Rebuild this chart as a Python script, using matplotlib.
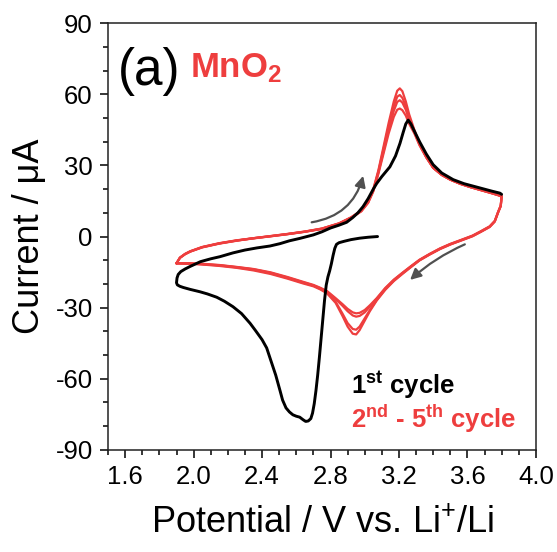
import matplotlib
matplotlib.use("Agg")
import matplotlib.pyplot as plt
from matplotlib.ticker import MultipleLocator, FormatStrFormatter

plt.rcParams['font.family'] = ['Liberation Sans', 'DejaVu Sans']
plt.rcParams['mathtext.fontset'] = 'custom'
plt.rcParams['mathtext.rm'] = 'Liberation Sans'
plt.rcParams['mathtext.bf'] = 'Liberation Sans:bold'
plt.rcParams['mathtext.it'] = 'Liberation Sans:italic'
plt.rcParams['axes.unicode_minus'] = False

# ---- 1st cycle (V vs Li+/Li, current in uA): OCV -> 1.9 V -> 3.8 V ----
cycle1_potential = [
    3.075, 3.02, 2.97, 2.92, 2.88, 2.85, 2.835, 2.825, 2.815, 2.805, 2.795,
    2.785, 2.775, 2.765, 2.755, 2.745, 2.735, 2.725, 2.715, 2.705, 2.695,
    2.685, 2.67, 2.655, 2.64, 2.62, 2.60, 2.58, 2.56, 2.54, 2.52, 2.505,
    2.48, 2.45, 2.427, 2.40, 2.36, 2.33, 2.28, 2.23, 2.18, 2.135, 2.08,
    2.037, 1.98, 1.94, 1.92, 1.905, 1.90,
    1.903, 1.91, 1.925, 1.95, 1.98, 2.04, 2.10, 2.154, 2.23, 2.30, 2.37,
    2.446, 2.505, 2.56, 2.62, 2.70, 2.75, 2.80, 2.85, 2.894, 2.93, 2.96,
    2.99, 3.02, 3.05, 3.07, 3.10, 3.147, 3.18, 3.206, 3.225, 3.24, 3.254,
    3.27, 3.30, 3.322, 3.36, 3.40, 3.45, 3.517, 3.58, 3.673, 3.74, 3.79, 3.80,
]
cycle1_current = [
    0.0, -0.3, -0.7, -1.3, -2.0, -2.6, -3.3, -5.0, -8.0, -11.5, -14.5,
    -17.0, -20.5, -27.0, -35.0, -43.0, -51.0, -58.5, -65.0, -70.5, -74.5,
    -76.8, -77.8, -78.0, -77.3, -76.2, -75.8, -75.2, -74.0, -72.3, -69.0, -65.0,
    -58.5, -52.0, -47.0, -43.5, -39.5, -36.6, -32.5, -29.6, -27.3, -25.6, -24.2,
    -23.3, -22.3, -21.5, -21.0, -20.4, -19.5,
    -17.5, -16.0, -14.8, -13.7, -12.6, -10.6, -9.4, -8.5, -6.9, -5.7, -4.8,
    -4.0, -3.0, -1.8, -0.8, 0.7, 2.0, 3.6, 4.8, 6.0, 8.0, 10.0,
    12.6, 16.0, 20.0, 22.4, 25.3, 29.4, 34.0, 39.3, 44.0, 47.5, 49.1,
    47.5, 43.0, 39.8, 34.8, 30.3, 26.8, 24.0, 22.3, 20.5, 19.2, 18.3, 17.8,
]

# ---- 2nd - 5th cycles: 1.9 V -> 3.8 V -> 1.9 V ----
cycle_potential = [
    1.90, 1.92, 1.95, 1.98, 2.05, 2.15, 2.25, 2.35, 2.45, 2.55, 2.65, 2.75,
    2.85, 2.92, 2.98, 3.02, 3.05, 3.08, 3.11, 3.14, 3.17, 3.19, 3.205, 3.22,
    3.24, 3.26, 3.29, 3.32, 3.36, 3.40, 3.45, 3.50, 3.56, 3.62, 3.68, 3.74,
    3.78, 3.80,
    3.80, 3.795, 3.78, 3.76, 3.73, 3.68, 3.63, 3.56, 3.50, 3.44, 3.38, 3.32,
    3.27, 3.22, 3.17, 3.12, 3.07, 3.03, 3.00, 2.97, 2.95, 2.93, 2.90, 2.87,
    2.83, 2.78, 2.74, 2.70, 2.64, 2.55, 2.45, 2.35, 2.25, 2.15, 2.05, 1.98,
    1.93, 1.90,
]
cycle2_current = [
    -11.3, -9.0, -7.5, -6.4, -4.6, -3.0, -1.8, -0.7, 0.1, 1.0, 2.0, 3.2,
    5.4, 7.8, 10.6, 14.2, 19.0, 26.5, 35.0, 43.5, 50.5, 53.5, 54.0, 53.3,
    51.0, 47.5, 43.5, 38.5, 33.3, 29.0, 26.0, 24.0, 22.2, 20.8, 19.5, 18.3,
    17.4, 16.9,
    16.9, 12.8, 10.2, 6.4, 4.1, 2.1, 0.2, -1.7, -3.4, -5.3, -7.6, -10.1,
    -12.9, -15.8, -18.8, -22.5, -27.0, -31.5, -35.5, -39.5, -41.3, -41.0, -38.0, -33.5,
    -28.0, -24.0, -22.3, -21.0, -19.8, -17.8, -15.8, -14.3, -13.2, -12.4, -11.8, -11.5,
    -11.4, -11.3,
]
cycle3_current = [
    -11.3, -9.0, -7.4, -6.3, -4.5, -2.9, -1.7, -0.7, 0.2, 1.1, 2.1, 3.3,
    5.5, 7.9, 10.8, 14.4, 19.3, 27.0, 36.0, 45.0, 53.0, 56.8, 57.5, 56.5,
    53.5, 49.0, 44.0, 38.8, 33.4, 29.0, 26.0, 24.0, 22.2, 20.8, 19.6, 18.3,
    17.5, 17.0,
    17.0, 13.0, 10.3, 6.3, 4.0, 2.0, 0.1, -1.8, -3.3, -5.2, -7.5, -10.0,
    -12.8, -15.6, -18.6, -22.2, -26.8, -31.0, -34.5, -38.0, -39.3, -39.0, -36.5, -32.5,
    -27.5, -23.7, -22.0, -20.7, -19.5, -17.5, -15.5, -14.0, -13.0, -12.2, -11.7, -11.4,
    -11.3, -11.3,
]
cycle4_current = [
    -11.3, -8.9, -7.4, -6.3, -4.5, -2.9, -1.7, -0.8, 0.1, 1.0, 2.0, 3.3,
    5.5, 8.0, 10.9, 14.6, 19.6, 27.5, 37.0, 46.5, 55.0, 59.0, 59.7, 58.5,
    55.0, 50.0, 44.5, 39.0, 33.5, 29.0, 26.0, 24.0, 22.2, 20.8, 19.6, 18.4,
    17.5, 17.0,
    17.0, 13.0, 10.4, 6.5, 4.2, 2.2, 0.3, -1.6, -3.2, -5.1, -7.4, -9.9,
    -12.6, -15.4, -18.3, -21.9, -26.3, -29.6, -32.0, -33.5, -33.8, -33.3, -31.5, -29.2,
    -26.4, -23.3, -21.8, -20.6, -19.3, -17.3, -15.3, -13.8, -12.9, -12.1, -11.6, -11.4,
    -11.3, -11.3,
]
cycle5_current = [
    -11.3, -8.9, -7.3, -6.2, -4.4, -2.8, -1.6, -0.7, 0.2, 1.1, 2.1, 3.4,
    5.6, 8.1, 11.0, 14.8, 20.0, 28.0, 38.0, 48.0, 57.0, 61.5, 62.5, 61.3,
    57.0, 51.5, 45.0, 39.3, 33.6, 29.0, 26.0, 24.0, 22.2, 20.8, 19.6, 18.4,
    17.5, 17.0,
    17.0, 13.1, 10.5, 6.6, 4.3, 2.3, 0.4, -1.5, -3.1, -5.0, -7.3, -9.8,
    -12.5, -15.3, -18.2, -21.7, -26.0, -29.0, -31.0, -32.2, -32.4, -32.0, -30.5, -28.5,
    -26.0, -23.0, -21.6, -20.4, -19.1, -17.1, -15.1, -13.7, -12.8, -12.0, -11.5, -11.3,
    -11.3, -11.3,
]
later_cycles = [cycle2_current, cycle3_current, cycle4_current, cycle5_current]

x_ticks = [1.6, 2.0, 2.4, 2.8, 3.2, 3.6, 4.0]
y_ticks = [-90, -60, -30, 0, 30, 60, 90]

RED = '#EE3E3E'
BLACK = '#000000'
GREY = '#505050'

fig = plt.figure(figsize=(5.57, 5.52), dpi=100)
ax = fig.add_axes([0.194, 0.185, 0.768, 0.773])

for cur in later_cycles:
    ax.plot(cycle_potential, cur, color=RED, lw=1.6, zorder=3,
            solid_joinstyle='round', solid_capstyle='round')
ax.plot(cycle1_potential, cycle1_current, color=BLACK, lw=2.1, zorder=4,
        solid_joinstyle='round', solid_capstyle='round')

# scan-direction arrows
ax.annotate('', xy=(2.991, 25.6), xytext=(2.69, 6.0),
            arrowprops=dict(arrowstyle='-|>', color=GREY, lw=1.6,
                            mutation_scale=16, shrinkA=0, shrinkB=0,
                            connectionstyle='arc3,rad=0.32'))
ax.annotate('', xy=(3.265, -18.3), xytext=(3.585, -3.3),
            arrowprops=dict(arrowstyle='-|>', color=GREY, lw=1.6,
                            mutation_scale=16, shrinkA=0, shrinkB=0,
                            connectionstyle='arc3,rad=0.08'))

ax.set_xlim(1.5, 4.0)
ax.set_ylim(-90, 90)
ax.set_xticks(x_ticks)
ax.set_yticks(y_ticks)
ax.xaxis.set_minor_locator(MultipleLocator(0.1))
ax.yaxis.set_minor_locator(MultipleLocator(10))
ax.xaxis.set_major_formatter(FormatStrFormatter('%.1f'))
ax.tick_params(which='both', direction='out', top=False, right=False,
               width=1.1, labelsize=18.5, pad=5)
ax.tick_params(which='major', length=6)
ax.tick_params(which='minor', length=3.5)
for s in ax.spines.values():
    s.set_linewidth(1.1)
    s.set_color('#222222')

ax.set_xlabel('Potential / V vs. Li$^{+}$/Li', fontsize=26, labelpad=12)
ax.set_ylabel('Current / μA', fontsize=26, labelpad=6)

ax.text(0.023, 0.855, '(a)', transform=ax.transAxes, fontsize=37,
        ha='left', va='baseline')
ax.text(0.192, 0.874, r'MnO$_{\mathbf{2}}$', transform=ax.transAxes,
        fontsize=25, fontweight='bold', color=RED, ha='left', va='baseline')
ax.text(0.569, 0.133, r'1$^{\mathbf{st}}$ cycle', transform=ax.transAxes,
        fontsize=18.5, fontweight='bold', color=BLACK, ha='left', va='baseline')
ax.text(0.569, 0.051, r'2$^{\mathbf{nd}}$ - 5$^{\mathbf{th}}$ cycle',
        transform=ax.transAxes, fontsize=18.5, fontweight='bold', color=RED,
        ha='left', va='baseline')

fig.savefig('out.png', dpi=100)
